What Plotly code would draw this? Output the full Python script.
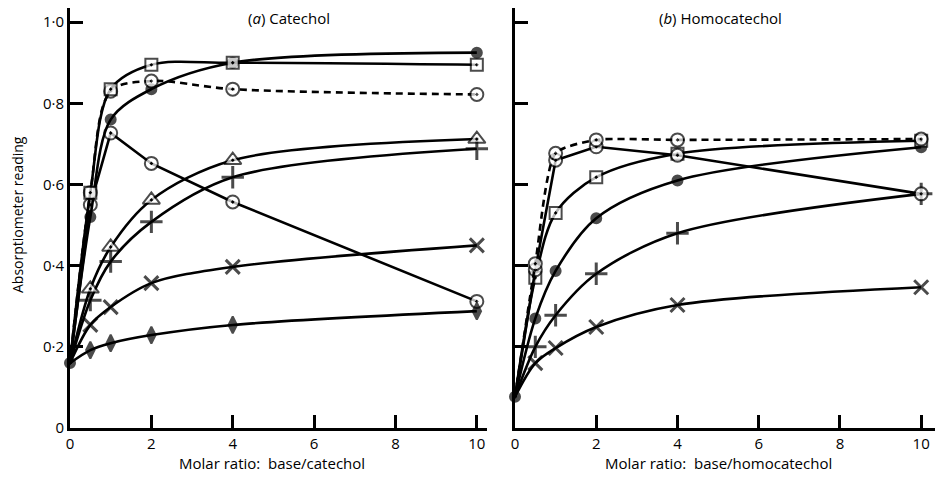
import plotly.graph_objects as go

# ---- data: (a) Catechol ----
cat_x = [0, 0.5, 1, 2, 4, 10]
cat_square = [0.16, 0.58, 0.835, 0.895, 0.9, 0.895]
cat_circle_dash = [0.16, 0.58, 0.83, 0.855, 0.835, 0.822]
cat_filled = [0.16, 0.52, 0.76, 0.835, 0.9, 0.925]
cat_circle_fall = [0.16, 0.55, 0.727, 0.652, 0.557, 0.312]
cat_triangle = [0.16, 0.343, 0.446, 0.562, 0.66, 0.712]
cat_plus = [0.16, 0.315, 0.41, 0.508, 0.618, 0.688]
cat_cross = [0.16, 0.254, 0.298, 0.357, 0.397, 0.45]
cat_diamond = [0.16, 0.192, 0.209, 0.229, 0.254, 0.288]

# ---- data: (b) Homocatechol ----
hom_x = [0, 0.5, 1, 2, 4, 10]
hom_circle_dash = [0.077, 0.405, 0.677, 0.71, 0.71, 0.712]
hom_circle_fall = [0.077, 0.39, 0.66, 0.693, 0.672, 0.577]
hom_square = [0.077, 0.37, 0.53, 0.618, 0.676, 0.708]
hom_filled = [0.077, 0.27, 0.387, 0.517, 0.61, 0.692]
hom_plus = [0.077, 0.2, 0.278, 0.38, 0.48, 0.577]
hom_cross = [0.077, 0.16, 0.197, 0.249, 0.303, 0.347]

y_ticks = [0, 0.2, 0.4, 0.6, 0.8, 1.0]
y_ticktext = ["0", "0·2", "0·4", "0·6", "0·8", "1·0"]
x_ticks = [0, 2, 4, 6, 8, 10]

FONT = "Open Sans"
BLACK = "#000"

fig = go.Figure()


def add(x, y, symbol, xa, ya, dash="solid", shape="spline", size=11,
        filled=False, lw=2.6, mlw=2, first_marker=False, smoothing=0.9):
    sizes = [size] * len(x)
    if not first_marker:
        sizes[0] = 0
    fig.add_trace(go.Scatter(
        x=x, y=y, xaxis=xa, yaxis=ya, mode="lines+markers",
        line=dict(color=BLACK, width=lw, dash=dash, shape=shape, smoothing=smoothing),
        marker=dict(symbol=symbol, size=sizes,
                    color=BLACK if filled else "white",
                    line=dict(color=BLACK, width=mlw)),
        cliponaxis=False, showlegend=False, hoverinfo="skip",
    ))


# (a) Catechol
add(cat_x, cat_circle_fall, "circle-dot", "x", "y", shape="linear", size=13)
add(cat_x, cat_cross, "x-thin", "x", "y", size=14, mlw=3)
add(cat_x, cat_diamond, "diamond-tall", "x", "y", size=12, filled=True)
add(cat_x, cat_plus, "cross-thin", "x", "y", size=16, mlw=3)
add(cat_x, cat_triangle, "triangle-up-dot", "x", "y", size=15)
add(cat_x, cat_filled, "circle", "x", "y", size=10, filled=True, first_marker=True)
add(cat_x, cat_circle_dash, "circle-dot", "x", "y", dash="7px,5px", size=13)
add(cat_x, cat_square, "square-dot", "x", "y", size=12)

# (b) Homocatechol
add(hom_x, hom_cross, "x-thin", "x2", "y2", size=14, mlw=3)
add(hom_x, hom_plus, "cross-thin", "x2", "y2", size=16, mlw=3)
add(hom_x, hom_filled, "circle", "x2", "y2", size=10, filled=True, first_marker=True)
add(hom_x, hom_square, "square-dot", "x2", "y2", size=12)
add(hom_x, hom_circle_fall, "circle-dot", "x2", "y2", shape="linear", size=13)
add(hom_x, hom_circle_dash, "circle-dot", "x2", "y2", dash="7px,5px", size=13, smoothing=0.6)

# page body has an 8px margin, so the figure is shifted by that much
OFF = 8
W, H = 943 - 2 * OFF, 482 - 2 * OFF


def px_x(p):
    return (p - OFF) / W


def px_y(p):
    return 1 - (p - OFF) / H


axis_common = dict(
    showgrid=False, zeroline=False, showline=True, linecolor=BLACK, linewidth=3,
    ticks="inside", tickcolor=BLACK, tickwidth=3, ticklen=13, automargin=False,
    tickfont=dict(family=FONT, size=15, color=BLACK),
)


def label(text, x, y, size=15, angle=0):
    return dict(text=text, x=px_x(x), y=px_y(y), xref="paper", yref="paper",
                xanchor="center", yanchor="middle", showarrow=False, textangle=angle,
                font=dict(size=size, family=FONT, color=BLACK))


fig.update_layout(
    width=W, height=H,
    margin=dict(l=0, r=0, t=0, b=0),
    paper_bgcolor="white", plot_bgcolor="white",
    font=dict(family=FONT, color=BLACK),
    xaxis=dict(axis_common, domain=[px_x(70), px_x(487)], range=[0, 10.25],
               tickvals=x_ticks, anchor="y"),
    yaxis=dict(axis_common, domain=[px_y(428), px_y(8)], range=[0, 1.035],
               tickvals=y_ticks, ticktext=y_ticktext, anchor="x"),
    xaxis2=dict(axis_common, domain=[px_x(515), px_x(935)], range=[0, 10.34],
                tickvals=x_ticks, anchor="y2"),
    yaxis2=dict(axis_common, domain=[px_y(428), px_y(8)], range=[0, 1.035],
                tickvals=y_ticks, showticklabels=False, anchor="x2"),
    annotations=[
        label("(<i>a</i>) Catechol", 289, 18),
        label("(<i>b</i>) Homocatechol", 720, 18),
        label("Absorptiometer reading", 17, 215, size=14, angle=-90),
        label("Molar ratio:  base/catechol", 272, 463),
        label("Molar ratio:  base/homocatechol", 718, 463),
    ],
)

fig.write_html("out.html")
